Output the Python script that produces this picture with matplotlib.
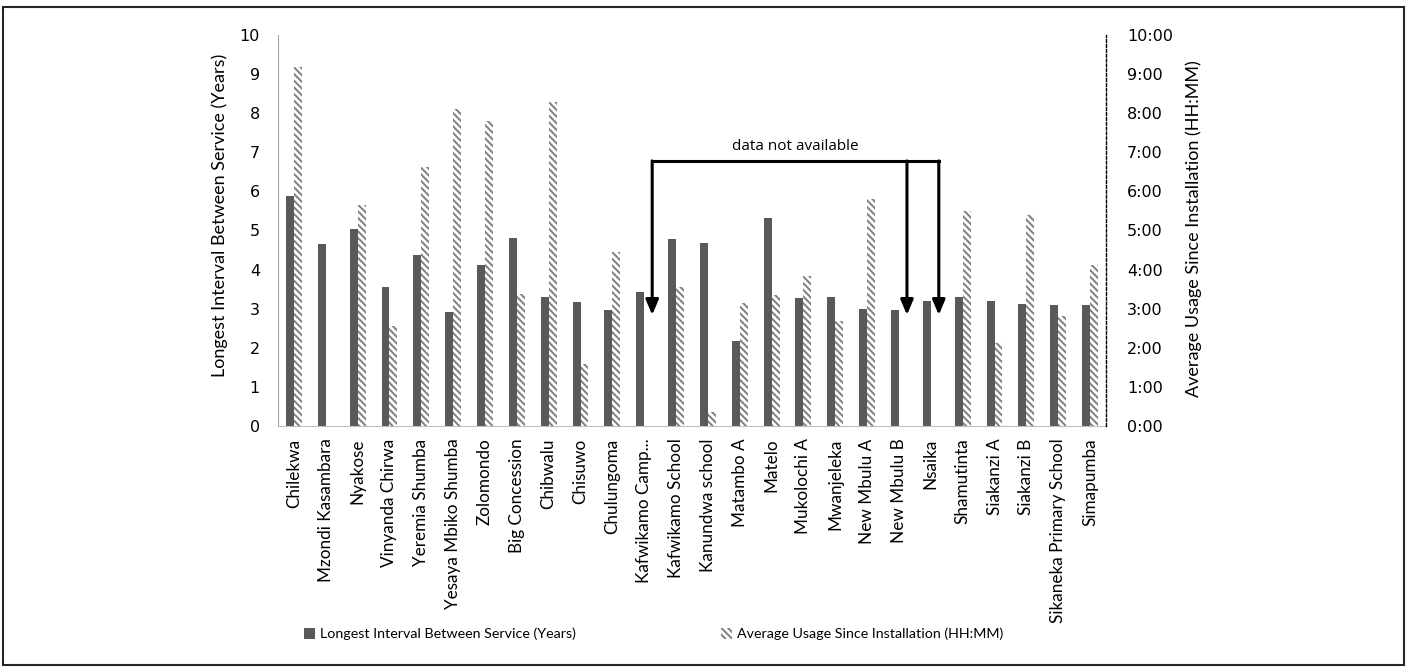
import numpy as np
import matplotlib
matplotlib.use("Agg")
import matplotlib.pyplot as plt
from matplotlib.patches import Rectangle
from matplotlib.ticker import FuncFormatter

categories = ["Chilekwa", "Mzondi Kasambara", "Nyakose", "Vinyanda Chirwa", "Yeremia Shumba",
              "Yesaya Mbiko Shumba", "Zolomondo", "Big Concession", "Chibwalu", "Chisuwo",
              "Chulungoma", "Kafwikamo Camp...", "Kafwikamo School", "Kanundwa school",
              "Matambo A", "Matelo", "Mukolochi A", "Mwanjeleka", "New Mbulu A", "New Mbulu B",
              "Nsaika", "Shamutinta", "Siakanzi A", "Siakanzi B", "Sikaneka Primary School",
              "Simapumba"]

longest_interval_years = [5.87, 4.65, 5.03, 3.56, 4.37, 2.91, 4.12, 4.80, 3.31, 3.18,
                          2.97, 3.42, 4.79, 4.67, 2.17, 5.33, 3.28, 3.31, 2.99, 2.97,
                          3.20, 3.31, 3.20, 3.12, 3.09, 3.09]

avg_usage_hours = [9.19, np.nan, 5.65, 2.57, 6.63, 8.11, 7.81, 3.38, 8.29, 1.59,
                   4.46, np.nan, 3.56, 0.36, 3.14, 3.35, 3.84, 2.69, 5.81, np.nan,
                   np.nan, 5.50, 2.13, 5.40, 2.82, 4.13]

left_ticks = list(range(0, 11))
right_ticks = list(range(0, 11))

missing_label = "data not available"
missing_sites = ["Kafwikamo Camp...", "New Mbulu B", "Nsaika"]

label_left = "Longest Interval Between Service (Years)"
label_right = "Average Usage Since Installation (HH:MM)"

plt.rcParams['hatch.linewidth'] = 1.4

W, H = 1408, 668
fig = plt.figure(figsize=(W / 100, H / 100), dpi=100)
ax = fig.add_axes([278 / W, 1 - 426 / H, (1106 - 278) / W, (426 - 35) / H])
ax2 = ax.twinx()

x = np.arange(len(categories))
bw = 0.25
ax.bar(x - bw / 2, longest_interval_years, width=bw, color="#595959", linewidth=0, zorder=2)
ax2.bar(x + bw / 2, avg_usage_hours, width=bw, facecolor="white", edgecolor="#7f7f7f",
        hatch="\\\\\\\\\\", linewidth=0, zorder=2)

ax.set_xlim(-0.5, len(categories) - 0.5)
ax.set_ylim(0, 10)
ax2.set_ylim(0, 10)
ax.set_yticks(left_ticks)
ax2.set_yticks(right_ticks)
ax2.yaxis.set_major_formatter(FuncFormatter(lambda v, p: f"{int(round(v))}:00"))

tick_font = "DejaVu Sans"
ax.tick_params(axis="y", length=0, pad=13, labelsize=11.5)
ax2.tick_params(axis="y", length=0, pad=15, labelsize=11.5)
for lab in ax.get_yticklabels() + ax2.get_yticklabels():
    lab.set_fontfamily(tick_font)

ax.set_xticks(x)
ax.set_xticklabels(categories, rotation=90, fontfamily="Lato", fontsize=12.3)
ax.tick_params(axis="x", length=0, pad=9)

for a in (ax, ax2):
    a.spines["top"].set_visible(False)
ax.spines["left"].set_color("#a6a6a6")
ax.spines["bottom"].set_color("#bfbfbf")
ax.spines["right"].set_visible(False)
ax2.spines["left"].set_visible(False)
ax2.spines["bottom"].set_visible(False)
ax2.spines["right"].set_linestyle((0, (2, 1.5)))
ax2.spines["right"].set_color("black")
ax2.spines["right"].set_linewidth(1.0)

ax.set_ylabel(label_left, fontfamily="Lato", fontsize=13)
ax2.set_ylabel(label_right, fontfamily="Lato", fontsize=13)
ax.yaxis.set_label_coords(-(278 - 220) / (1106 - 278), 0.538)
ax2.yaxis.set_label_coords(1 + (1194 - 1106) / (1106 - 278), 0.505)
ax.yaxis.label.set_va("center")
ax2.yaxis.label.set_va("center")

# annotation: data not available
idx = [categories.index(s) for s in missing_sites]
xs = [i + bw for i in idx]
y_top, y_tip = 6.78, 2.84
ax.plot([xs[0], xs[-1]], [y_top, y_top], color="black", lw=2.2, solid_capstyle="projecting", zorder=4)
for xa in xs:
    ax.annotate("", xy=(xa, y_tip), xytext=(xa, y_top),
                arrowprops=dict(arrowstyle="-|>,head_length=0.9,head_width=0.38",
                                color="black", lw=2.2, shrinkA=0, shrinkB=0,
                                mutation_scale=10), zorder=4)
ax.text((xs[0] + xs[-1]) / 2, 7.14, missing_label, ha="center", va="center",
        fontfamily="Open Sans", fontsize=11)

# legend (two entries, placed separately)
h1 = Rectangle((0, 0), 1, 1, facecolor="#595959", linewidth=0)
h2 = Rectangle((0, 0), 1, 1, facecolor="white", edgecolor="#7f7f7f", hatch="\\\\\\\\\\", linewidth=0)
leg_kw = dict(loc="center left", frameon=False, prop={"family": "Lato", "size": 10.3},
              handlelength=0.8, handleheight=0.8, handletextpad=0.35,
              borderpad=0, borderaxespad=0)
leg1 = fig.legend([h1], [label_left], bbox_to_anchor=(304 / W, 1 - 634 / H), **leg_kw)
leg2 = fig.legend([h2], [label_right], bbox_to_anchor=(721 / W, 1 - 634 / H), **leg_kw)

# outer border
fig.add_artist(Rectangle((3 / W, 1 - 665 / H), (1404 - 3) / W, (665 - 7) / H,
                         transform=fig.transFigure, fill=False, edgecolor="#262626", linewidth=1.5))

fig.savefig("out.png", dpi=100)
